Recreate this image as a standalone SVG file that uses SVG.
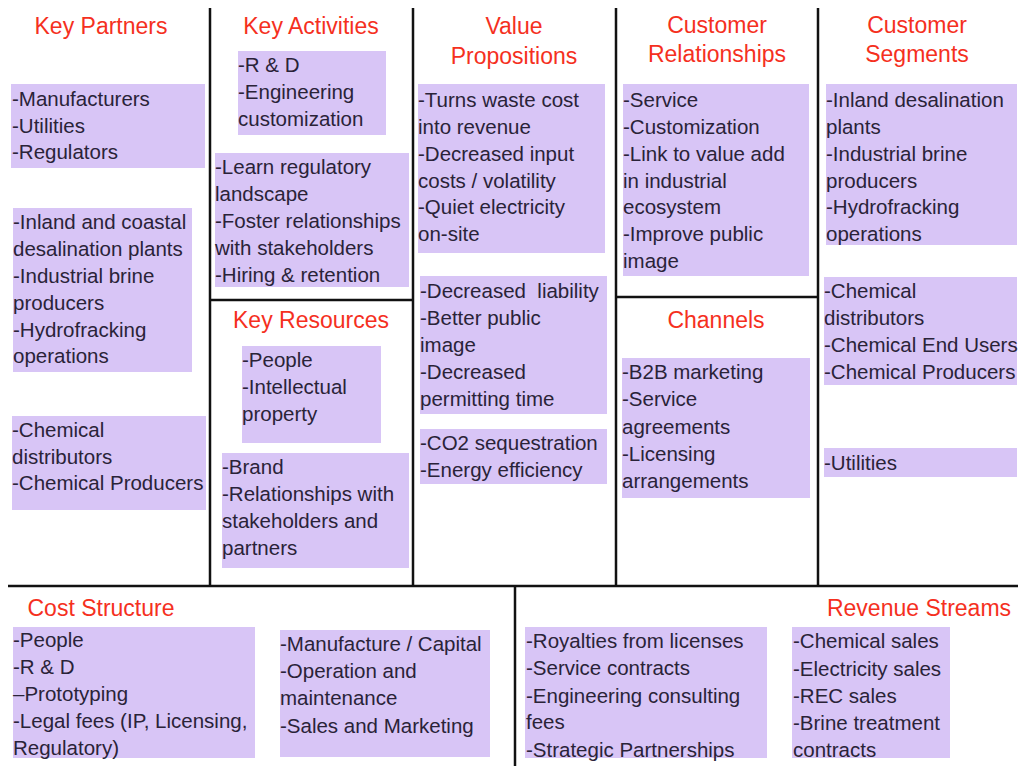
<svg xmlns="http://www.w3.org/2000/svg" width="1018" height="766" viewBox="0 0 1018 766">
<style>
.bg{fill:#ffffff}
.box{fill:#D8C5F6}
.t{font-family:"Liberation Sans",Arial,sans-serif;font-size:20.5px;fill:#2A2338}
.b{font-family:"Liberation Sans",Arial,sans-serif;font-size:20.5px;fill:#2A2338}
.h{font-family:"Liberation Sans",Arial,sans-serif;font-size:23px;fill:#F5301E;text-anchor:middle}
.ln{stroke:#111111;stroke-width:2.5;fill:none}
</style>
<rect class="bg" x="0" y="0" width="1018" height="766"/>
<g id="connectors">
<line class="ln" x1="210" y1="8" x2="210" y2="586"/>
<line class="ln" x1="413" y1="8" x2="413" y2="586"/>
<line class="ln" x1="616" y1="8" x2="616" y2="586"/>
<line class="ln" x1="818" y1="8" x2="818" y2="586"/>
<line class="ln" x1="210" y1="300" x2="413" y2="300"/>
<line class="ln" x1="616" y1="297" x2="818" y2="297"/>
<line class="ln" x1="8" y1="586" x2="1018" y2="586"/>
<line class="ln" x1="515" y1="586" x2="515" y2="766"/>
</g>

<g id="key-partners">
<text class="h" x="101" y="34">Key Partners</text>
<rect class="box" x="11" y="84" width="194" height="84"/>
<text class="t"><tspan x="12" y="106">-Manufacturers</tspan><tspan x="12" y="133">-Utilities</tspan><tspan x="12" y="159">-Regulators</tspan></text>
<rect class="box" x="13" y="208" width="179" height="164"/>
<text class="t"><tspan x="13" y="229">-Inland and coastal</tspan><tspan x="13" y="256">desalination plants</tspan><tspan x="13" y="283">-Industrial brine</tspan><tspan x="13" y="310">producers</tspan><tspan x="13" y="337">-Hydrofracking</tspan><tspan x="13" y="363">operations</tspan></text>
<rect class="box" x="12" y="416" width="194" height="94"/>
<text class="t"><tspan x="12" y="437">-Chemical</tspan><tspan x="12" y="464">distributors</tspan><tspan x="12" y="490">-Chemical Producers</tspan></text>
</g>

<g id="key-activities">
<text class="h" x="311" y="34">Key Activities</text>
<rect class="box" x="238" y="51" width="148" height="84"/>
<text class="t"><tspan x="238" y="72">-R &amp; D</tspan><tspan x="238" y="99">-Engineering</tspan><tspan x="238" y="126">customization</tspan></text>
<rect class="box" x="215" y="153" width="194" height="134"/>
<text class="t"><tspan x="215" y="174">-Learn regulatory</tspan><tspan x="215" y="201">landscape</tspan><tspan x="215" y="228">-Foster relationships</tspan><tspan x="215" y="255">with stakeholders</tspan><tspan x="215" y="282">-Hiring &amp; retention</tspan></text>
</g>

<g id="key-resources">
<text class="h" x="311" y="328">Key Resources</text>
<rect class="box" x="242" y="346" width="139" height="97"/>
<text class="t"><tspan x="242" y="367">-People</tspan><tspan x="242" y="394">-Intellectual</tspan><tspan x="242" y="421">property</tspan></text>
<rect class="box" x="222" y="453" width="187" height="115"/>
<text class="t"><tspan x="222" y="474">-Brand</tspan><tspan x="222" y="501">-Relationships with</tspan><tspan x="222" y="528">stakeholders and</tspan><tspan x="222" y="555">partners</tspan></text>
</g>

<g id="value-propositions">
<text class="h"><tspan x="514" y="34">Value</tspan><tspan x="514" y="64">Propositions</tspan></text>
<rect class="box" x="418" y="84" width="187" height="169"/>
<text class="t"><tspan x="418" y="107">-Turns waste cost</tspan><tspan x="418" y="134">into revenue</tspan><tspan x="418" y="161">-Decreased input</tspan><tspan x="418" y="188">costs / volatility</tspan><tspan x="418" y="214">-Quiet electricity</tspan><tspan x="418" y="241">on-site</tspan></text>
<rect class="box" x="420" y="276" width="187" height="138"/>
<text class="t"><tspan x="420" y="298" xml:space="preserve">-Decreased  liability</tspan><tspan x="420" y="325">-Better public</tspan><tspan x="420" y="352">image</tspan><tspan x="420" y="379">-Decreased</tspan><tspan x="420" y="406">permitting time</tspan></text>
<rect class="box" x="420" y="429" width="187" height="55"/>
<text class="t"><tspan x="420" y="450">-CO2 sequestration</tspan><tspan x="420" y="477">-Energy efficiency</tspan></text>
</g>

<g id="customer-relationships">
<text class="h"><tspan x="717" y="33">Customer</tspan><tspan x="717" y="62">Relationships</tspan></text>
<rect class="box" x="623" y="84" width="186" height="192"/>
<text class="t"><tspan x="623" y="107">-Service</tspan><tspan x="623" y="134">-Customization</tspan><tspan x="623" y="161">-Link to value add</tspan><tspan x="623" y="188">in industrial</tspan><tspan x="623" y="214">ecosystem</tspan><tspan x="623" y="241">-Improve public</tspan><tspan x="623" y="268">image</tspan></text>
</g>

<g id="channels">
<text class="h" x="716" y="328">Channels</text>
<rect class="box" x="622" y="358" width="188" height="140"/>
<text class="t"><tspan x="622" y="379">-B2B marketing</tspan><tspan x="622" y="406">-Service</tspan><tspan x="622" y="434">agreements</tspan><tspan x="622" y="461">-Licensing</tspan><tspan x="622" y="488">arrangements</tspan></text>
</g>

<g id="customer-segments">
<text class="h"><tspan x="917" y="33">Customer</tspan><tspan x="917" y="62">Segments</tspan></text>
<rect class="box" x="826" y="84" width="191" height="161"/>
<text class="t"><tspan x="826" y="107">-Inland desalination</tspan><tspan x="826" y="134">plants</tspan><tspan x="826" y="161">-Industrial brine</tspan><tspan x="826" y="188">producers</tspan><tspan x="826" y="214">-Hydrofracking</tspan><tspan x="826" y="241">operations</tspan></text>
<rect class="box" x="824" y="277" width="193" height="108"/>
<text class="t"><tspan x="824" y="298">-Chemical</tspan><tspan x="824" y="325">distributors</tspan><tspan x="824" y="352">-Chemical End Users</tspan><tspan x="824" y="379">-Chemical Producers</tspan></text>
<rect class="box" x="824" y="448" width="193" height="29"/>
<text class="t"><tspan x="824" y="470">-Utilities</tspan></text>
</g>

<g id="cost-structure">
<text class="h" x="101" y="616">Cost Structure</text>
<rect class="box" x="13" y="627" width="242" height="131"/>
<text class="b"><tspan x="13" y="647">-People</tspan><tspan x="13" y="674">-R &amp; D</tspan><tspan x="13" y="701">–Prototyping</tspan><tspan x="13" y="728">-Legal fees (IP, Licensing,</tspan><tspan x="13" y="755">Regulatory)</tspan></text>
<rect class="box" x="280" y="630" width="210" height="127"/>
<text class="b"><tspan x="280" y="651">-Manufacture / Capital</tspan><tspan x="280" y="678">-Operation and</tspan><tspan x="280" y="705">maintenance</tspan><tspan x="280" y="733">-Sales and Marketing</tspan></text>
</g>

<g id="revenue-streams">
<text class="h" x="919" y="616">Revenue Streams</text>
<rect class="box" x="525" y="627" width="242" height="131"/>
<text class="b"><tspan x="526" y="648">-Royalties from licenses</tspan><tspan x="526" y="675">-Service contracts</tspan><tspan x="526" y="703">-Engineering consulting</tspan><tspan x="526" y="729">fees</tspan><tspan x="526" y="757">-Strategic Partnerships</tspan></text>
<rect class="box" x="792" y="627" width="158" height="131"/>
<text class="b"><tspan x="793" y="648">-Chemical sales</tspan><tspan x="793" y="676">-Electricity sales</tspan><tspan x="793" y="703">-REC sales</tspan><tspan x="793" y="730">-Brine treatment</tspan><tspan x="793" y="757">contracts</tspan></text>
</g>
</svg>
